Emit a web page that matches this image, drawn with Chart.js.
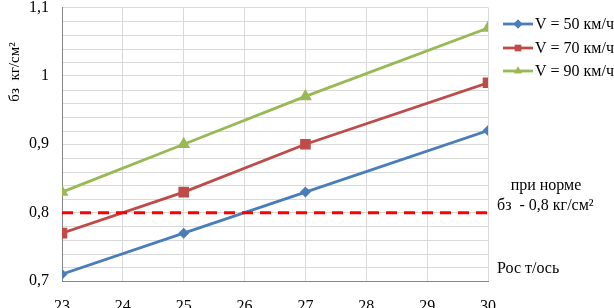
<!DOCTYPE html>
<html>
<head>
<meta charset="utf-8">
<script src="https://cdn.jsdelivr.net/npm/chart.js@4/dist/chart.umd.min.js"></script>
<style>
html,body{margin:0;padding:0;background:#fff;overflow:hidden;}
#wrap{position:relative;width:614px;height:308px;}
</style>
</head>
<body>
<div id="wrap"><canvas id="c" width="614" height="308"></canvas></div>
<script>
// ---- data ----
const xValues = [23, 25, 27, 30];
const seriesLabels = ['V = 50 км/ч', 'V = 70 км/ч', 'V = 90 км/ч'];
const v50 = [0.71, 0.77, 0.83, 0.92];
const v70 = [0.77, 0.83, 0.90, 0.99];
const v90 = [0.83, 0.90, 0.97, 1.07];
const normX = [23, 30];
const normY = [0.8, 0.8];
const yTitle = 'бз  кг/см²';
const noteLines = ['при норме', 'бз  - 0,8 кг/см²'];
const noteAxle = 'Рос т/ось';
const xMin = 23, xMax = 30, xStep = 1;
const yMin = 0.7, yMax = 1.1, yLabelStep = 0.1, yGridStep = 0.02;

const colors = ['#4A7EBB', '#BE4B48', '#98B954'];
const styles = ['rectRot', 'rect', 'triangle'];
const radii = [5.5, 7.5, 7.5];
const FONT = '"Liberation Serif", "Times New Roman", serif';

function pts(xs, ys){ return xs.map((x,i)=>({x:x, y:ys[i]})); }

const datasets = [v50, v70, v90].map((vals, i) => ({
  label: seriesLabels[i],
  data: pts(xValues, vals),
  borderColor: colors[i],
  backgroundColor: colors[i],
  borderWidth: 2.8,
  pointStyle: styles[i],
  pointRadius: radii[i],
  pointHoverRadius: radii[i],
  pointBorderWidth: 0,
  tension: 0
}));
datasets.unshift({
  label: 'norm',
  data: pts(normX, normY),
  borderColor: '#FF0000',
  borderWidth: 3,
  borderDash: [11, 7],
  pointRadius: 0,
  tension: 0
});

const overlay = {
  id: 'overlay',
  afterDraw(chart) {
    const ctx = chart.ctx;
    const ys = chart.scales.y, a = chart.chartArea;
    // minor horizontal gridlines, placed behind everything already drawn
    ctx.save();
    ctx.globalCompositeOperation = 'destination-over';
    ctx.setLineDash([]);
    ctx.strokeStyle = '#D9D9D9';
    ctx.lineWidth = 1;
    const n = Math.round((yMax - yMin) / yGridStep);
    const per = Math.round(yLabelStep / yGridStep);
    for (let k = 1; k < n; k++) {
      if (k % per === 0) continue;
      const py = Math.round(ys.getPixelForValue(yMin + k * yGridStep)) + 0.5;
      ctx.beginPath(); ctx.moveTo(a.left, py); ctx.lineTo(a.right, py); ctx.stroke();
    }
    ctx.restore();

    ctx.save();
    // legend
    const rows = [24, 48, 71];
    for (let i = 0; i < 3; i++) {
      const ds = chart.data.datasets[i + 1];
      const y = rows[i];
      ctx.strokeStyle = ds.borderColor;
      ctx.lineWidth = 2.8;
      ctx.setLineDash([]);
      ctx.beginPath(); ctx.moveTo(503, y); ctx.lineTo(533, y); ctx.stroke();
      ctx.fillStyle = ds.borderColor;
      Chart.helpers.drawPoint(ctx, {pointStyle: ds.pointStyle, radius: 4.5, borderWidth: 0, rotation: 0}, 518, y);
      ctx.fill();
      ctx.fillStyle = '#000';
      ctx.font = '16px ' + FONT;
      ctx.textBaseline = 'middle';
      ctx.textAlign = 'left';
      ctx.fillText(ds.label, 535, y + 1);
    }
    // notes
    ctx.fillStyle = '#000';
    ctx.font = '16px ' + FONT;
    ctx.textBaseline = 'middle';
    ctx.textAlign = 'center';
    ctx.fillText(noteLines[0], 546, 186);
    ctx.textAlign = 'left';
    ctx.fillText(noteLines[1], 497, 206);
    ctx.fillText(noteAxle, 497, 269);
    // y title
    ctx.font = '15px ' + FONT;
    ctx.translate(15, 72);
    ctx.rotate(-Math.PI / 2);
    ctx.textAlign = 'center';
    ctx.fillText(yTitle, 0, 0);
    ctx.restore();
  }
};

new Chart(document.getElementById('c'), {
  type: 'line',
  data: { datasets },
  plugins: [overlay],
  options: {
    responsive: false,
    animation: false,
    events: [],
    layout: { padding: { top: 6, right: 126, left: 0, bottom: 0 } },
    plugins: { legend: { display: false }, tooltip: { enabled: false } },
    scales: {
      x: {
        type: 'linear',
        min: xMin, max: xMax,
        ticks: { stepSize: xStep, padding: 16, color: '#000', font: { family: FONT, size: 16 }, maxRotation: 0 },
        grid: { color: '#D9D9D9', drawTicks: false, lineWidth: 1 },
        border: { color: '#868686', width: 1 },
        afterFit(s) { s.height = 27; s.paddingLeft = 0; s.paddingRight = 0; }
      },
      y: {
        type: 'linear',
        min: yMin, max: yMax,
        ticks: {
          stepSize: yLabelStep, padding: 13, color: '#000', font: { family: FONT, size: 16 },
          autoSkip: false,
          callback(v) { return (Math.round(v * 10) / 10).toString().replace('.', ','); }
        },
        grid: { color: '#D9D9D9', drawTicks: false, lineWidth: 1 },
        border: { color: '#868686', width: 1 },
        afterFit(s) { s.width = 62; s.paddingTop = 0; s.paddingBottom = 0; }
      }
    }
  }
});
</script>
</body>
</html>
